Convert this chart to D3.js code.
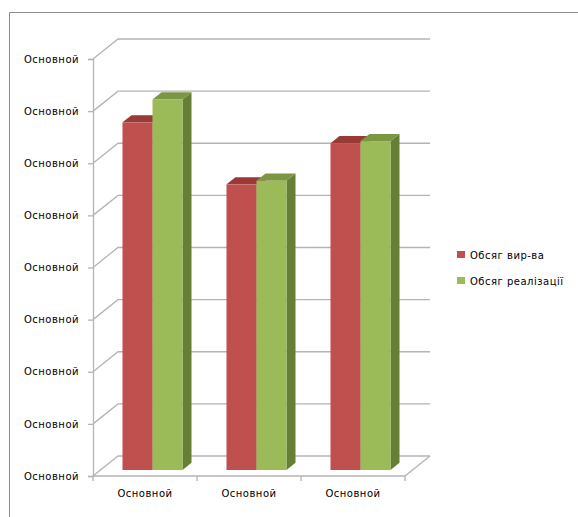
<!DOCTYPE html>
<html>
<head>
<meta charset="utf-8">
<script src="https://cdn.jsdelivr.net/npm/d3@7"></script>
<style>
  html, body { margin: 0; padding: 0; background: #fff; }
  svg { display: block; }
  text { font-family: "DejaVu Sans", Verdana, sans-serif; font-size: 10px; fill: #000; letter-spacing: 0.5px; }
</style>
</head>
<body>
<svg id="chart" width="578" height="517"></svg>
<script>
// ---- data ----
const categories = ["Основной", "Основной", "Основной"];
const seriesNames = ["Обсяг вир-ва", "Обсяг реалізації"];
const seriesProduction = [6.67, 5.48, 6.27];
const seriesSales = [7.11, 5.55, 6.31];
const yTickValues = [0, 1, 2, 3, 4, 5, 6, 7, 8];
const yTickLabels = ["Основной", "Основной", "Основной", "Основной", "Основной",
                     "Основной", "Основной", "Основной", "Основной"];

// ---- layout ----
const W = 578, H = 517;
const svg = d3.select("#chart");
const frontLeft = 93, frontRight = 405, yBottom = 476, yTop = 59;
const depthDX = 25, depthDY = -20;
const f0 = 0.3, f1 = 0.66;
const gridColor = "#b4b4b4";

const x = d3.scaleBand().domain(d3.range(categories.length)).range([frontLeft, frontRight]);
const xs = d3.scaleBand().domain(d3.range(seriesNames.length)).range([0, x.bandwidth()]).paddingInner(0).paddingOuter(0.733);
const y = d3.scaleLinear().domain([0, 8]).range([yBottom, yTop]);

const P = (px, py, f) => [px + depthDX * f, py + depthDY * f];

// outer chart border (top & left visible)
svg.append("path").attr("d", `M9.5,${H} L9.5,12.5 L${W},12.5`)
  .attr("fill", "none").attr("stroke", "#8c8c8c").attr("stroke-width", 1);

const grid = svg.append("g").attr("stroke", gridColor).attr("stroke-width", 1.3).attr("fill", "none");
// back wall gridlines + left wall diagonals
yTickValues.forEach(v => {
  const a = P(frontLeft, y(v), 0), b = P(frontLeft, y(v), 1), c = P(frontRight, y(v), 1);
  grid.append("path").attr("d", `M${a} L${b} L${c}`);
});
// floor front edge and right edge
{
  const a = P(frontLeft, y(0), 0), b = P(frontRight, y(0), 0), c = P(frontRight, y(0), 1);
  grid.append("path").attr("d", `M${a} L${b} L${c}`);
}

// y axis
const yAxis = d3.axisLeft(y).tickValues(yTickValues)
  .tickFormat((d, i) => yTickLabels[i]).tickSize(5).tickPadding(9);
const gy = svg.append("g").attr("transform", `translate(${frontLeft},0)`).call(yAxis);
gy.select(".domain").attr("stroke", gridColor).attr("stroke-width", 1.3);
gy.selectAll(".tick line").attr("stroke", gridColor).attr("stroke-width", 1.3);
gy.selectAll(".tick text").attr("font-family", "DejaVu Sans").attr("font-size", 10).attr("fill", "#000");

// x axis ticks at band boundaries
const boundaries = x.domain().map(i => x(i)).concat([frontRight]);
svg.append("g").selectAll("line").data(boundaries).join("line")
  .attr("x1", d => d).attr("x2", d => d).attr("y1", yBottom).attr("y2", yBottom + 5)
  .attr("stroke", gridColor).attr("stroke-width", 1.3);
svg.append("g").selectAll("text").data(categories).join("text")
  .attr("x", (d, i) => x(i) + x.bandwidth() / 2).attr("y", 497)
  .attr("text-anchor", "middle").text(d => d);

// bars
const seriesValues = [seriesProduction, seriesSales];
const colors = [
  { front: "#c0504d", top: "#9a3a37", side: "#8c3330" },
  { front: "#9bbb59", top: "#7b9744", side: "#677e36" }
];
const bars = svg.append("g");
categories.forEach((c, ci) => {
  seriesNames.forEach((s, si) => {
    const v = seriesValues[si][ci];
    const x0 = x(ci) + xs(si), x1 = x0 + xs.bandwidth();
    const col = colors[si];
    const fb = P(x0, y(0), f0), ft = P(x1, y(v), f0);
    // side
    bars.append("path").attr("fill", col.side)
      .attr("d", `M${P(x1, y(0), f0)} L${P(x1, y(v), f0)} L${P(x1, y(v), f1)} L${P(x1, y(0), f1)}Z`);
    // top
    bars.append("path").attr("fill", col.top)
      .attr("d", `M${P(x0, y(v), f0)} L${P(x1, y(v), f0)} L${P(x1, y(v), f1)} L${P(x0, y(v), f1)}Z`);
    // front
    bars.append("rect").attr("fill", col.front)
      .attr("x", fb[0]).attr("y", ft[1]).attr("width", ft[0] - fb[0]).attr("height", fb[1] - ft[1]);
  });
});

// legend
const legend = svg.append("g");
seriesNames.forEach((s, i) => {
  const ly = 251 + i * 26;
  legend.append("rect").attr("x", 457).attr("y", ly).attr("width", 8).attr("height", 7)
    .attr("fill", colors[i].front);
  legend.append("text").attr("x", 470).attr("y", ly + 7.5).text(s);
});
</script>
</body>
</html>
